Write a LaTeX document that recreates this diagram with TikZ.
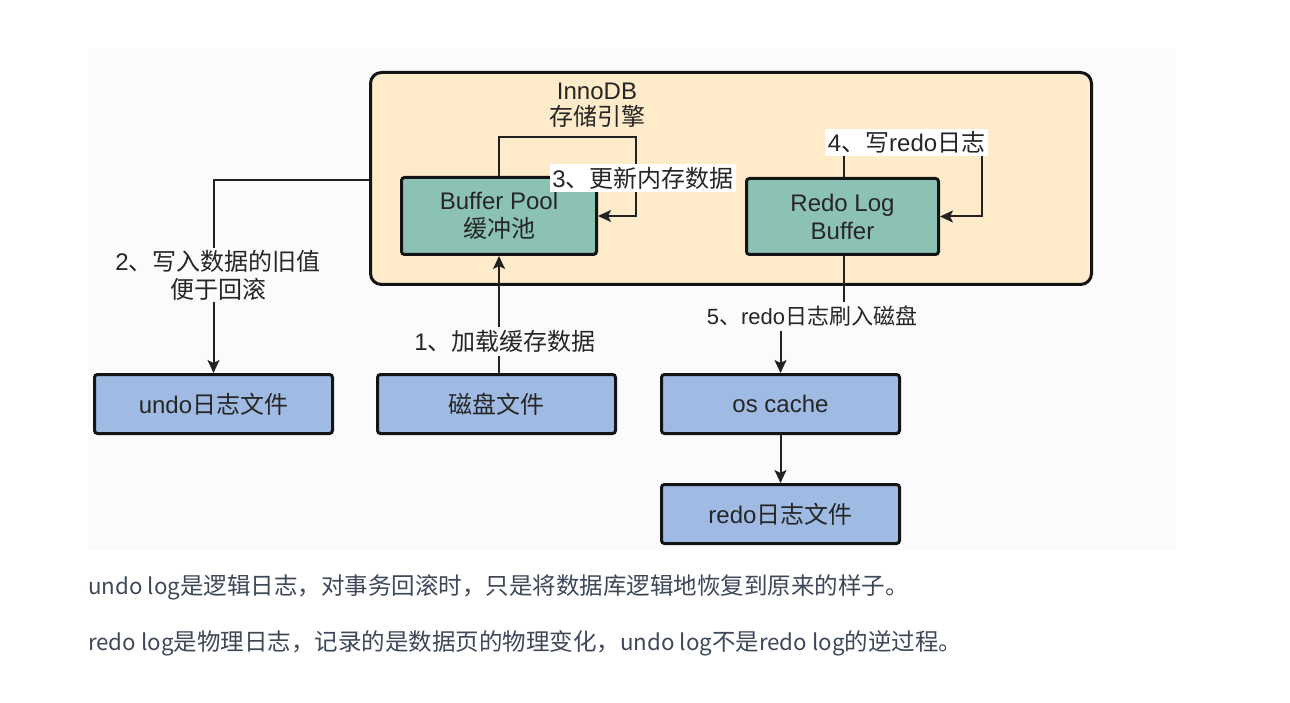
\documentclass[tikz,border=0pt]{standalone}
\usepackage{fontspec}
\setmainfont{Liberation Sans}
\newfontfamily\cjk{Noto Sans CJK SC}
\usetikzlibrary{arrows.meta}
\definecolor{bgc}{HTML}{FBFAFC}
\definecolor{innofill}{HTML}{FDEBCA}
\definecolor{teal}{HTML}{8CC2B4}
\definecolor{bluefill}{HTML}{9FBAE3}
\definecolor{txt}{HTML}{262626}
\definecolor{linec}{HTML}{222222}
\definecolor{bt}{HTML}{3E4859}
\newcommand{\lt}[1]{{\fontsize{22.3}{24}\selectfont #1}}
\tikzset{
  dfont/.style={font=\fontsize{24}{28}\selectfont},
  tealbox/.style={draw=black!92, line width=3pt, rounded corners=3pt, fill=teal, align=center, dfont, text=txt, inner sep=0pt},
  bluebox/.style={draw=black!92, line width=3pt, rounded corners=3pt, fill=bluefill, align=center, dfont, text=txt, inner sep=0pt, minimum width=238pt, minimum height=59pt},
  innobox/.style={draw=black!92, line width=3pt, rounded corners=11pt, fill=innofill, inner sep=0pt},
  lbl/.style={align=center, dfont, text=txt, inner sep=2pt},
  conn/.style={line width=2pt, draw=linec},
  arr/.style={conn, -{Stealth[length=13pt,width=12pt,inset=3pt]}},
  btext/.style={anchor=west, inner sep=0pt, text=bt, font=\cjk\fontsize{23.5}{24}\selectfont}
}
\begin{document}
\begin{tikzpicture}[x=1pt,y=-1pt]
\useasboundingbox (0,0) rectangle (1290,703);
\fill[white] (0,0) rectangle (1290,703);
\fill[bgc] (88,49) rectangle (1176,550);

% InnoDB container
\node[innobox, minimum width=721pt, minimum height=212pt] (inno) at (731,178.5) {};
\node[lbl, font=\fontsize{24}{25.5}\selectfont] (title) at (597,105) {InnoDB\\{\cjk 存储引擎}};

% boxes
\node[tealbox, minimum width=195pt, minimum height=77pt] (bp) at (499,216) {Buffer Pool\\{\cjk 缓冲池}};
\node[tealbox, minimum width=192pt, minimum height=76pt] (rlb) at (842.5,216.5) {Redo Log\\Buffer};
\node[bluebox] (undo) at (213.5,404) {undo{\cjk 日志文件}};
\node[bluebox] (disk) at (496.5,404) {\cjk 磁盘文件};
\node[bluebox] (os) at (780.5,404) {os cache};
\node[bluebox] (rf) at (780.5,514) {redo{\cjk 日志文件}};

% labels without fill
\node[lbl, inner ysep=3.5pt] (l1) at (505,341.5) {1{\cjk 、加载缓存数据}};
\node[lbl, inner ysep=2pt] (l2) at (218,275) {2{\cjk 、写入数据的旧值}\\{\cjk 便于回滚}};
\node[lbl, inner ysep=4.5pt, font=\fontsize{22}{26}\selectfont] (l5) at (812,316.5) {5{\cjk 、}redo{\cjk 日志刷入磁盘}};

% connectors
\coordinate (k2) at (213.5,180);
\draw[conn] (inno.west |- k2) -- (k2) -- (k2 |- l2.north);
\draw[arr] (undo.north |- l2.south) -- (undo.north);

\draw[conn] (bp.south |- disk.north) -- (bp.south |- l1.south);
\draw[arr] (bp.south |- l1.north) -- (bp.south);

\coordinate (k3a) at (499,137);
\coordinate (k3b) at (636,137);
\draw[arr] (bp.north) -- (k3a) -- (k3b) -- (k3b |- bp.east) -- (bp.east);

\coordinate (k4a) at (843.5,143);
\coordinate (k4b) at (982,143);
\draw[arr] (rlb.north -| k4a) -- (k4a) -- (k4b) -- (k4b |- rlb.east) -- (rlb.east);

\draw[conn] (rlb.south -| k4a) -- (k4a |- l5.north);
\draw[arr] (os.north |- l5.south) -- (os.north);
\draw[arr] (os.south) -- (rf.north);

% labels with white fill over the loops
\node[lbl, fill=white, inner sep=2.5pt] (l3) at (643,178) {3{\cjk 、更新内存数据}};
\node[lbl, fill=white, inner sep=3pt] (l4) at (906.5,142.5) {4{\cjk 、写}redo{\cjk 日志}};

% text below
\node[btext] (t1) at (88,587) {\lt{undo log}是逻辑日志，对事务回滚时，只是将数据库逻辑地恢复到原来的样子。};
\node[btext] (t2) at (88,643) {\lt{redo log}是物理日志，记录的是数据页的物理变化，\lt{undo log}不是\lt{redo log}的逆过程。};
\end{tikzpicture}
\end{document}
